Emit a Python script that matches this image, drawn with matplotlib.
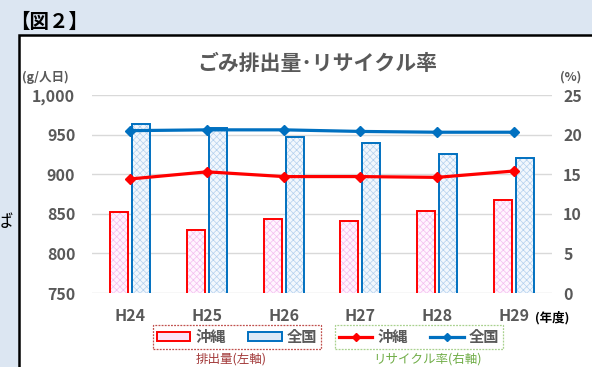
import matplotlib
matplotlib.use("Agg")
import matplotlib.pyplot as plt
import numpy as np
from matplotlib.patches import Rectangle, Patch
from matplotlib.lines import Line2D

plt.rcParams['font.family'] = ['Noto Sans CJK JP', 'DejaVu Sans']
plt.rcParams['hatch.linewidth'] = 0.5

years = ['H24', 'H25', 'H26', 'H27', 'H28', 'H29']
# ごみ排出量 (g/人日)
okinawa_waste = [852, 829, 844, 841, 853, 867]
zenkoku_waste = [964, 958, 947, 939, 925, 920]
# リサイクル率 (%)
okinawa_rate = [14.4, 15.3, 14.7, 14.7, 14.6, 15.4]
zenkoku_rate = [20.5, 20.6, 20.6, 20.4, 20.3, 20.3]

GRAY = '#595959'
RED = '#ff0000'
BLUE = '#0070c0'

W, H = 592, 367
fig = plt.figure(figsize=(W / 100, H / 100), dpi=100)
fig.patch.set_facecolor('#dce6f2')

# white chart panel with black frame
fig.patches.append(Rectangle((19 / W, -0.1), 1.0, 1 - 35 / H + 0.1,
                             transform=fig.transFigure, facecolor='white',
                             edgecolor='black', linewidth=1.8, zorder=-5))

fig.text(10 / W, 1 - 22 / H, '【図２】', fontsize=14, fontweight='bold',
         color='black', va='center', ha='left')
fig.text(-6 / W, 1 - 222 / H, 'ば', fontsize=13, color='black',
         va='center', ha='left')

ax = fig.add_axes([92 / W, 1 - 293 / H, 460 / W, 198 / H])
ax.set_facecolor('none')
x = np.arange(len(years))
bw = 0.235
off = 0.145

# bars: hatched fill first, outline on top
ax.bar(x - off, okinawa_waste, bw, color='#fff4fe', edgecolor='#f3bdef',
       hatch='xxxxx', linewidth=0, zorder=2)
ax.bar(x - off, okinawa_waste, bw, fill=False, edgecolor=RED, linewidth=1.4, zorder=3)
ax.bar(x + off, zenkoku_waste, bw, color='#f2f7fd', edgecolor='#b4d0ee',
       hatch='xxxxx', linewidth=0, zorder=2)
ax.bar(x + off, zenkoku_waste, bw, fill=False, edgecolor=BLUE, linewidth=1.4, zorder=3)

ax.set_xlim(-0.5, len(years) - 0.5)
ax.set_ylim(750, 1000)
ax.set_yticks(np.arange(750, 1001, 50))
ax.set_yticklabels([f'{v:,}' for v in range(750, 1001, 50)])
ax.set_xticks(x)
ax.set_xticklabels(years)
ax.grid(axis='y', color='#d9d9d9', linewidth=1)
ax.set_axisbelow(True)
for s in ax.spines.values():
    s.set_visible(False)
ax.tick_params(axis='both', length=0, labelsize=11.5, labelcolor=GRAY)
ax.tick_params(axis='y', pad=12)
ax.tick_params(axis='x', pad=11)
for t in ax.get_xticklabels() + ax.get_yticklabels():
    t.set_fontweight('bold')

ax2 = ax.twinx()
ax2.plot(x, okinawa_rate, color=RED, linewidth=2.3, marker='D', markersize=5, zorder=4)
ax2.plot(x, zenkoku_rate, color=BLUE, linewidth=2.3, marker='D', markersize=5, zorder=4)
ax2.set_ylim(0, 25)
ax2.set_yticks(range(0, 26, 5))
for s in ax2.spines.values():
    s.set_visible(False)
ax2.tick_params(axis='y', length=0, labelsize=11.5, labelcolor=GRAY, pad=8)
for t in ax2.get_yticklabels():
    t.set_fontweight('bold')

fig.text(317 / W, 1 - 63 / H, 'ごみ排出量･リサイクル率', fontsize=15,
         fontweight='bold', color=GRAY, ha='center', va='center')
fig.text(22 / W, 1 - 77 / H, '(g/人日)', fontsize=9, fontweight='bold',
         color=GRAY, ha='left', va='center')
fig.text(560 / W, 1 - 77 / H, '(%)', fontsize=9, fontweight='bold',
         color=GRAY, ha='left', va='center')
fig.text(535 / W, 1 - 318 / H, '(年度)', fontsize=9, fontweight='bold',
         color='black', ha='left', va='center')

# legends
bar_handles = [Patch(facecolor='#fbe3f8', edgecolor=RED, linewidth=1.4),
               Patch(facecolor='#dde9f7', edgecolor=BLUE, linewidth=1.4)]
line_handles = [Line2D([], [], color=RED, linewidth=2.3, marker='D', markersize=4),
                Line2D([], [], color=BLUE, linewidth=2.3, marker='D', markersize=4)]
legend_kw = dict(loc='center', ncol=2, fontsize=11, handlelength=2.2,
                 handleheight=0.6, handletextpad=0.3, columnspacing=1.5,
                 borderpad=0.25, fancybox=False, framealpha=1)
leg1 = fig.legend(bar_handles, ['沖縄', '全国'], bbox_to_anchor=(237 / W, 1 - 337 / H),
                  **legend_kw)
leg2 = fig.legend(line_handles, ['沖縄', '全国'], bbox_to_anchor=(419 / W, 1 - 337 / H),
                  **legend_kw)
for leg, ec in ((leg1, '#c0504d'), (leg2, '#a9d18e')):
    fr = leg.get_frame()
    fr.set_edgecolor(ec)
    fr.set_linestyle((0, (1.5, 1)))
    fr.set_linewidth(0.9)
    for t in leg.get_texts():
        t.set_color(GRAY)
        t.set_fontweight('bold')

fig.text(231 / W, 1 - 359 / H, '排出量(左軸)', fontsize=9, color='#a33a3a',
         ha='center', va='center')
fig.text(427 / W, 1 - 359 / H, 'リサイクル率(右軸)', fontsize=9, color='#70ad47',
         ha='center', va='center')

fig.savefig('out.png', dpi=100, facecolor=fig.get_facecolor())
